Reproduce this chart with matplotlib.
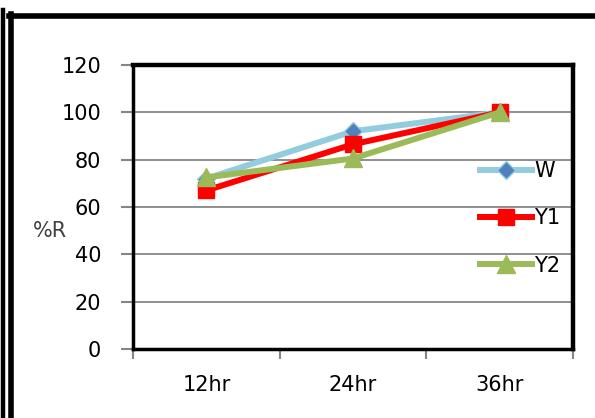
import matplotlib.pyplot as plt
from matplotlib.lines import Line2D

# reaction data, %R over time
times = ['12hr', '24hr', '36hr']
w_vals = [72, 92, 100]
y1_vals = [67, 86.5, 100]
y2_vals = [72.5, 80.5, 100]

W_LINE = '#93CDDD'
W_MARK = '#4F81BD'
Y1_COL = '#FF0000'
Y2_COL = '#9BBB59'

plt.rcParams['font.family'] = ['DejaVu Sans']

fig = plt.figure(figsize=(5.95, 4.18), dpi=100)
W, H = 595, 418

def fx(px):
    return px / W

def fy(py):
    return 1 - py / H

# outer frame lines (left double bar and top bar)
fig.add_artist(Line2D([fx(2.5), fx(2.5)], [fy(10), 0], color='black', lw=3.2))
fig.add_artist(Line2D([fx(11), fx(11)], [fy(14), 0], color='black', lw=4))
fig.add_artist(Line2D([fx(9), 1], [fy(15.5), fy(15.5)], color='black', lw=4))

ax = fig.add_axes([fx(133), fy(349), fx(573 - 133), (349 - 65) / H])

x = range(len(times))
ax.plot(x, w_vals, color=W_LINE, lw=4.3, marker='D', ms=9,
        mfc=W_MARK, mec=W_LINE, mew=1, label='W', zorder=3)
ax.plot(x, y1_vals, color=Y1_COL, lw=4.3, marker='s', ms=11,
        mfc=Y1_COL, mec=Y1_COL, label='Y1', zorder=4)
ax.plot(x, y2_vals, color=Y2_COL, lw=4.3, marker='^', ms=13,
        mfc=Y2_COL, mec=Y2_COL, label='Y2', zorder=5)

ax.set_xlim(-0.5, len(times) - 0.5)
ax.set_ylim(0, 120)
ax.set_yticks(range(0, 121, 20))
ax.set_xticks([-0.5, 0.5, 1.5, 2.5], minor=False)
ax.set_xticklabels([])
ax.set_xticks(list(x), minor=True)
ax.set_xticklabels(times, minor=True)
ax.tick_params(axis='x', which='minor', length=0, pad=19, labelsize=15)
ax.tick_params(axis='x', which='major', direction='out', length=7,
               color='#868686', width=1.5)
ax.tick_params(axis='y', direction='out', length=9, color='#868686',
               width=1.5, pad=14, labelsize=15)

ax.grid(axis='y', color='#868686', lw=1.3)
ax.set_axisbelow(True)

for side in ['top', 'right']:
    ax.spines[side].set_linewidth(3.2)
    ax.spines[side].set_color('black')
for side in ['left', 'bottom']:
    ax.spines[side].set_linewidth(2.5)
    ax.spines[side].set_color('black')

fig.text(fx(50), fy(231), '%R', fontsize=15, ha='center', va='center',
         color='#404040')

ax.legend(loc='upper left', bbox_to_anchor=(0.77, 0.69), frameon=False,
          fontsize=15, handlelength=2.5, handletextpad=0.1,
          labelspacing=1.3, borderaxespad=0)

fig.savefig('out.png', dpi=100)
